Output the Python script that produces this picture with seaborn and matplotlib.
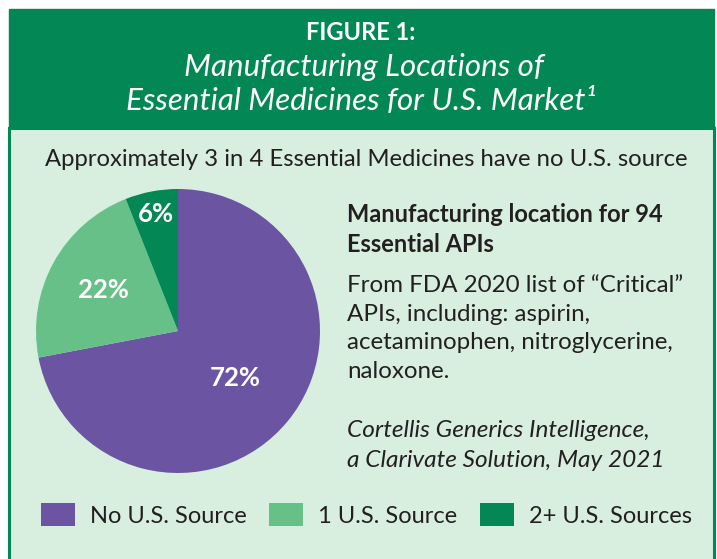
import matplotlib
matplotlib.use("Agg")
import numpy as np
import matplotlib.pyplot as plt
import seaborn as sns
from matplotlib.patches import Rectangle

# donnees du graphique
categories = ["No U.S. Source", "1 U.S. Source", "2+ U.S. Sources"]
shares = [72, 22, 6]
colors = ["#6b55a3", "#66c087", "#038855"]
label_dist = [0.52, 0.6, 0.84]

sns.set_style("white")
plt.rcParams['font.family'] = ['Lato', 'DejaVu Sans']

W, H = 717, 559
fig = plt.figure(figsize=(W / 100, H / 100), dpi=100)
fig.patch.set_facecolor("white")

def fx(x):
    return x / W

def fy(y):
    return 1 - y / H

dark = "#231f20"
green = "#038855"

# cadre + bandeau
fig.patches.append(Rectangle((fx(9), -0.01), fx(705), fy(128) + 0.01, transform=fig.transFigure,
                             facecolor="#d8efe0", edgecolor=green, linewidth=2.2, zorder=0))
fig.patches.append(Rectangle((fx(9), fy(128)), fx(705), 119 / H, transform=fig.transFigure,
                             facecolor=green, edgecolor=green, linewidth=1, zorder=0.5))

fig.text(fx(361), fy(40), "FIGURE 1:", color="white", fontsize=17, fontweight="bold",
         ha="center", va="baseline")
fig.text(fx(364), fy(76), "Manufacturing Locations of", color="white", fontsize=22.5,
         style="italic", ha="center", va="baseline")
fig.text(fx(361), fy(110), "Essential Medicines for U.S. Market\u00b9", color="white", fontsize=22.5,
         style="italic", ha="center", va="baseline")

fig.text(fx(366), fy(166), "Approximately 3 in 4 Essential Medicines have no U.S. source",
         color=dark, fontsize=17.2, ha="center", va="baseline")

# camembert
ax = fig.add_axes([fx(36), fy(331 + 142), 284 / W, 284 / H], zorder=3)
wedges, _ = ax.pie(shares, colors=colors, startangle=90, counterclock=False,
                   wedgeprops=dict(linewidth=0))
ax.set_xlim(-1, 1)
ax.set_ylim(-1, 1)
ax.set_aspect("equal")
ax.axis("off")
for w, s, d in zip(wedges, shares, label_dist):
    ang = np.deg2rad((w.theta1 + w.theta2) / 2)
    ax.text(d * np.cos(ang), d * np.sin(ang), f"{s}%", color="white", fontsize=18.5,
            fontweight="bold", ha="center", va="center")

# texte a droite
x0 = fx(347)
fig.text(x0, fy(222), "Manufacturing location for 94", color=dark, fontsize=17,
         fontweight="bold", va="baseline")
fig.text(x0, fy(252), "Essential APIs", color=dark, fontsize=17, fontweight="bold", va="baseline")
body = ["From FDA 2020 list of \u201cCritical\u201d", "APIs, including: aspirin,",
        "acetaminophen, nitroglycerine,", "naloxone."]
for i, line in enumerate(body):
    fig.text(x0, fy(292 + 28.7 * i), line, color=dark, fontsize=17.4, va="baseline")
fig.text(x0, fy(437), "Cortellis Generics Intelligence,", color=dark, fontsize=17.6,
         style="italic", va="baseline")
fig.text(x0, fy(467), "a Clarivate Solution, May 2021", color=dark, fontsize=17.6,
         style="italic", va="baseline")

# legende
handles = [Rectangle((0, 0), 1, 1, facecolor=c, edgecolor="none") for c in colors]
fig.legend(handles, categories, loc="center left", bbox_to_anchor=(fx(41), fy(515)),
           ncol=3, frameon=False, fontsize=17, handlelength=1.44, handleheight=1.06,
           handletextpad=0.64, columnspacing=0.95, labelcolor=dark,
           borderaxespad=0, borderpad=0)

fig.savefig("out.png", dpi=100, facecolor=fig.get_facecolor())
